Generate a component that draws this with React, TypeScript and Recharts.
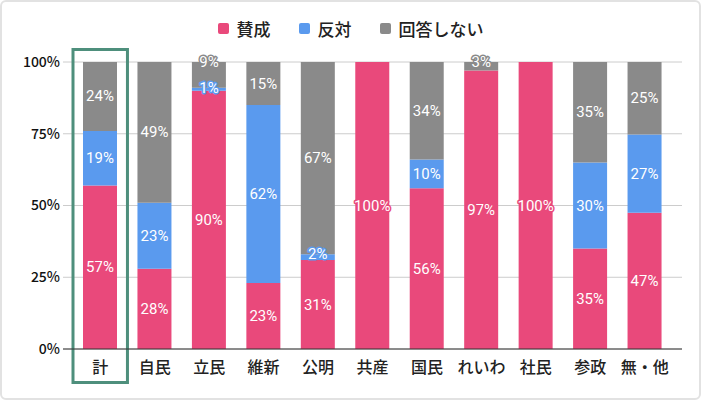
import { BarChart, Bar, XAxis, YAxis, CartesianGrid, Legend, LabelList, ReferenceArea } from 'recharts';

const categories = ['計', '自民', '立民', '維新', '公明', '共産', '国民', 'れいわ', '社民', '参政', '無・他'];
const agree = [57, 28, 90, 23, 31, 100, 56, 97, 100, 35, 47];
const oppose = [19, 23, 1, 62, 2, 0, 10, 0, 0, 30, 27];
const noAnswer = [24, 49, 9, 15, 67, 0, 34, 3, 0, 35, 25];
const yTicks = [0, 0.25, 0.5, 0.75, 1];

const SERIES = [
  { key: 'agree', name: '賛成', color: '#E9497B', values: agree },
  { key: 'oppose', name: '反対', color: '#5A9AEE', values: oppose },
  { key: 'noAnswer', name: '回答しない', color: '#8A8A8A', values: noAnswer },
];

const data = categories.map((name, i) => ({
  name,
  agree: agree[i],
  oppose: oppose[i],
  noAnswer: noAnswer[i],
}));

const JP_FONT = '"Noto Sans CJK JP", "Noto Sans", sans-serif';

// where a label sits inside its segment (small segments push it to the top edge)
const anchorY = (top: number, h: number) => (h < 14 ? top : top + h / 2);

const makeLabel = (seriesIndex: number) => (props: any) => {
  const box = props.viewBox || props;
  const { x, y, width, height } = box;
  const i = categories.indexOf(props.value);
  if (i < 0) return null;
  const s = SERIES[seriesIndex];
  const v = s.values[i];
  if (!v) return null;

  const total = agree[i] + oppose[i] + noAnswer[i];
  const pxPerUnit = height / (v / total);
  let ly = anchorY(y, height);

  // keep the top label clear of the one just below it
  if (seriesIndex > 0) {
    const below = SERIES[seriesIndex - 1].values[i];
    if (below) {
      const bh = (below / total) * pxPerUnit;
      const by = anchorY(y + height, bh);
      if (by - ly < 16) ly = y;
    }
  }

  return (
    <text
      x={x + width / 2}
      y={ly}
      textAnchor="middle"
      dominantBaseline="central"
      fill="#fff"
      stroke={s.color}
      strokeWidth={3}
      strokeLinejoin="round"
      paintOrder="stroke"
      fontFamily="Roboto, sans-serif"
      fontSize={15}
    >
      {v}%
    </text>
  );
};

const renderLegend = () => (
  <div style={{ display: 'flex', justifyContent: 'center', gap: 28, fontFamily: JP_FONT, fontSize: 17, fontWeight: 500, color: '#222' }}>
    {SERIES.map((s) => (
      <div key={s.key} style={{ display: 'flex', alignItems: 'center', gap: 8 }}>
        <span style={{ width: 11, height: 11, borderRadius: 2, background: s.color, display: 'inline-block' }} />
        <span>{s.name}</span>
      </div>
    ))}
  </div>
);

export default function App() {
  return (
    <div style={{ position: 'absolute', left: 0, top: 0, width: 701, height: 400, background: '#fff' }}>
      <BarChart
        width={701}
        height={400}
        data={data}
        stackOffset="expand"
        margin={{ top: 62, right: 19, bottom: 21, left: 0 }}
      >
        <CartesianGrid vertical={false} stroke="#CCCCCC" />
        <XAxis
          dataKey="name"
          padding={{ left: 10, right: 10 }}
          height={30}
          tickLine={false}
          tickSize={0}
          tickMargin={13}
          axisLine={{ stroke: '#333' }}
          tick={{ fill: '#222', fontSize: 16, fontWeight: 500, fontFamily: JP_FONT }}
          interval={0}
        />
        <YAxis
          width={63}
          domain={[0, 1]}
          ticks={yTicks}
          tickFormatter={(v) => `${Math.round(v * 100)}%`}
          axisLine={false}
          tickLine={false}
          tickSize={0}
          tickMargin={3}
          tick={{ fill: '#111', fontSize: 14, fontWeight: 500, fontFamily: JP_FONT }}
        />
        <Legend
          verticalAlign="middle"
          align="center"
          layout="horizontal"
          wrapperStyle={{ top: 16, left: 0, width: 701 }}
          content={renderLegend}
        />
        {SERIES.map((s, si) => (
          <Bar key={s.key} dataKey={s.key} name={s.name} stackId="a" fill={s.color} barSize={34} isAnimationActive={false}>
            <LabelList dataKey={(d: any) => d.name} content={makeLabel(si)} />
          </Bar>
        ))}
        <ReferenceArea
          x1="計"
          x2="計"
          y1={-0.1167}
          y2={1.0436}
          ifOverflow="visible"
          fill="none"
          stroke="#4E8F7C"
          strokeWidth={3}
        />
      </BarChart>
      <div
        style={{
          position: 'absolute',
          inset: 0,
          border: '2px solid #E2E2E2',
          borderRadius: 6,
          boxSizing: 'border-box',
          pointerEvents: 'none',
        }}
      />
    </div>
  );
}
